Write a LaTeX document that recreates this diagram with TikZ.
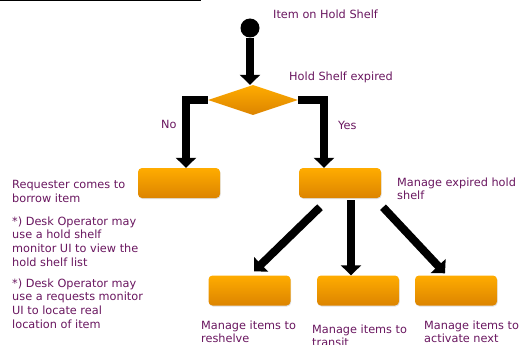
\documentclass[tikz,border=0pt]{standalone}
\usepackage{fontspec}
\setmainfont{DejaVu Sans}
\usetikzlibrary{arrows.meta,shapes.geometric,shadows}

\definecolor{boxtop}{RGB}{255,172,0}
\definecolor{boxbot}{RGB}{220,132,0}
\definecolor{notetext}{RGB}{105,22,95}

\begin{document}
\begin{tikzpicture}[x=1pt,y=-1pt,
    task/.style={rectangle, rounded corners=4pt, minimum width=82pt, minimum height=30pt, inner sep=0pt,
        top color=boxtop, bottom color=boxbot, drop shadow={shadow xshift=0.6pt, shadow yshift=-1pt, opacity=0.25}},
    choice/.style={diamond, minimum width=90pt, minimum height=30pt, inner sep=0pt,
        top color=boxtop, bottom color=boxbot},
    startdot/.style={circle, fill=black, minimum size=19pt, inner sep=0pt},
    flow/.style={line width=8pt, line join=miter, -{Triangle[width=20pt,length=10pt]}},
    note/.style={anchor=north west, inner sep=0pt, align=left, text=notetext,
        font=\fontsize{11.3}{13.7}\selectfont}]
    \useasboundingbox (0,0) rectangle (522,345);
    \draw[line width=1.2pt] (0,0.6) -- (201,0.6);

    % flow nodes
    \node[startdot] (start) at (250,28) {};
    \node[choice] (expired) at (253,100) {};
    \node[task] (borrow) at (179,183) {};
    \node[task] (manage) at (340,183) {};
    \node[task] (reshelve) at (249.5,290.5) {};
    \node[task] (transit) at (358,290.5) {};
    \node[task] (activate) at (456,290.5) {};

    % connectors
    \draw[flow] (start.south) -- (start.south |- expired.north);
    \draw[flow] (expired.west) -| ([xshift=7pt]borrow.north);
    \draw[flow] (expired.east) -| ([xshift=-16pt]manage.north);
    \draw[flow] ([xshift=-20pt,yshift=-9pt]manage.south) -- ([xshift=4.5pt,yshift=4pt]reshelve.north);
    \draw[flow] ([xshift=11pt,yshift=-2pt]manage.south) -- ([xshift=-7pt]transit.north);
    \draw[flow] ([xshift=43pt,yshift=-9pt]manage.south) -- ([xshift=-11pt,yshift=2pt]activate.north);

    % labels
    \node[note] (lblstart) at (273,10) {Item on Hold Shelf};
    \node[note] (lblexpired) at (289,72) {Hold Shelf expired};
    \node[note] (lblno) at (161,120) {No};
    \node[note] (lblyes) at (338,121) {Yes};
    \node[note] (lblmanage) at (397,177.5) {Manage expired hold\\shelf};
    \node[note] (lblborrow) at (12,180.5) {Requester comes to\\borrow item};
    \node[note] (lblmonitor) at (12,216.5) {*) Desk Operator may\\use a hold shelf\\monitor UI to view the\\hold shelf list};
    \node[note] (lblrequests) at (12,278.5) {*) Desk Operator may\\use a requests monitor\\UI to locate real\\location of item};
    \node[note] (lblreshelve) at (201,320.5) {Manage items to\\reshelve};
    \node[note] (lbltransit) at (312,324.5) {Manage items to\\transit};
    \node[note] (lblactivate) at (424,320.5) {Manage items to\\activate next};
\end{tikzpicture}
\end{document}
